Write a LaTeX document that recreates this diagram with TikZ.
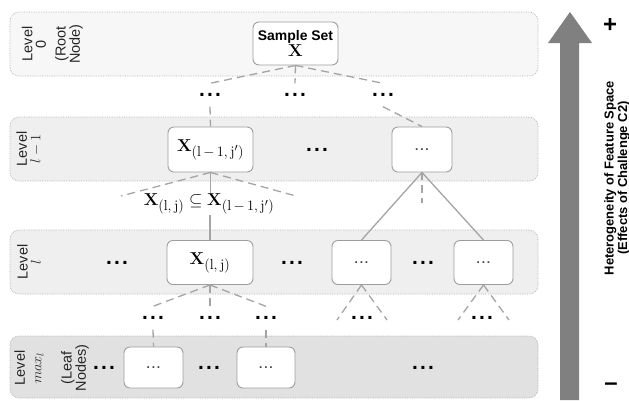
\documentclass[tikz,border=0pt]{standalone}
\usepackage[no-math]{fontspec}
\setmainfont{Liberation Sans}
\usepackage{amssymb}
% larger subscripts for the set labels
\DeclareMathSizes{18.5}{18.5}{14.5}{11}

\definecolor{bandtop}{HTML}{F7F7F7}
\definecolor{bandmid}{HTML}{EFEFEF}
\definecolor{bandleaf}{HTML}{E1E1E1}
\definecolor{bandline}{HTML}{B0B0B0}
\definecolor{boxline}{HTML}{9E9E9E}
\definecolor{linkgray}{HTML}{A4A4A4}
\definecolor{arrowgray}{HTML}{808080}

% three heavy dots between nodes, and the light ones inside the boxes
\newcommand\bigdots{{\fontsize{21}{21}\selectfont\bfseries .\hspace{2.2bp}.\hspace{2.2bp}.}}
\newcommand\boxdots{{\fontsize{12}{12}\selectfont\bfseries\color{black!75}.\hspace{1.8bp}.\hspace{1.8bp}.}}

\begin{document}
\begin{tikzpicture}[x=1bp,y=-1bp,
  band/.style={draw=bandline, densely dotted, line width=0.7bp, rounded corners=9bp},
  nodebox/.style={draw=boxline, fill=white, line width=0.9bp, rounded corners=6bp,
    inner sep=0pt, align=center},
  dotsnode/.style={inner sep=0pt, minimum width=19bp, minimum height=23bp},
  lvl/.style={rotate=90, align=center, inner sep=0pt, text=black!85,
    font=\fontsize{14.5}{13.5}\selectfont},
  link/.style={draw=linkgray, line width=1.3bp},
  dlink/.style={link, dash pattern=on 8bp off 5bp},
  xfont/.style={font=\fontsize{18.5}{20}\selectfont}
]
\useasboundingbox (0,0) rectangle (629,400);

% level bands
\draw[band, fill=bandtop]  (10,12)  rectangle (538,76);
\draw[band, fill=bandmid]  (10,117) rectangle (538,181);
\draw[band, fill=bandmid]  (10,230) rectangle (538,294);
\draw[band, fill=bandleaf] (10,336) rectangle (538,398);

% level captions
\node[lvl] (cap0a) at (34,44)  {Level\\0};
\node[lvl] (cap0b) at (69,44)  {(Root\\Node)};
\node[lvl] (cap1)  at (29,149) {Level\\$l-1$};
\node[lvl] (cap2)  at (29,262) {Level\\$l$};
\node[lvl] (cap3a) at (29,368) {Level\\[3bp]$max_l$};
\node[lvl] (cap3b) at (75,368) {(Leaf\\Nodes)};

% tree nodes
\node[nodebox, minimum width=85bp, minimum height=43bp] (root) at (295.5,43.5)
  {\fontsize{14}{15}\selectfont\textbf{Sample Set}\\[1bp]{\fontsize{18}{18}\selectfont$\mathbf{X}$}};
\node[nodebox, xfont, minimum width=85bp, minimum height=45bp] (a) at (210.5,149.5)
  {$\mathbf{X}_{(\mathrm{l}\,-\,1,\,\mathrm{j}')}$};
\node[nodebox, minimum width=60bp, minimum height=45bp] (b) at (422,149.5) {\boxdots};
\node[nodebox, xfont, minimum width=86bp, minimum height=44bp] (c) at (210,262.5)
  {$\mathbf{X}_{(\mathrm{l},\,\mathrm{j})}$};
\node[nodebox, minimum width=59bp, minimum height=44bp] (d) at (361.5,262.5) {\boxdots};
\node[nodebox, minimum width=59bp, minimum height=44bp] (e) at (483.5,262.5) {\boxdots};
\node[nodebox, minimum width=59bp, minimum height=41bp] (f) at (153.5,367.5) {\boxdots};
\node[nodebox, minimum width=58bp, minimum height=41bp] (g) at (266,367.5) {\boxdots};

% subset relation between the two X nodes
\node[xfont, inner sep=1bp] (sub) at (209,204)
  {$\mathbf{X}_{(\mathrm{l},\,\mathrm{j})}\subseteq\mathbf{X}_{(\mathrm{l}\,-\,1,\,\mathrm{j}')}$};

% ellipses standing for omitted nodes
\node[dotsnode] (p1) at (210,95)  {\bigdots};
\node[dotsnode] (p2) at (295,95)  {\bigdots};
\node[dotsnode] (p3) at (383,95)  {\bigdots};
\node[dotsnode] (q)  at (317,150) {\bigdots};
\node[dotsnode] (r1) at (117,263) {\bigdots};
\node[dotsnode] (r2) at (292,263) {\bigdots};
\node[dotsnode] (r3) at (423,263) {\bigdots};
\node[dotsnode] (s1) at (153,318) {\bigdots};
\node[dotsnode] (s2) at (210,318) {\bigdots};
\node[dotsnode] (s3) at (266,318) {\bigdots};
\node[dotsnode] (s4) at (362,318) {\bigdots};
\node[dotsnode] (s5) at (482,318) {\bigdots};
\node[dotsnode] (t1) at (104,368) {\bigdots};
\node[dotsnode] (t2) at (209,368) {\bigdots};
\node[dotsnode] (t3) at (423,368) {\bigdots};

% free ends of the open branches
\coordinate (al) at (121,196);
\coordinate (ar) at (296,196);
\coordinate (bd) at (422,203);
\coordinate (dl) at (337,320);
\coordinate (dr) at (387,320);
\coordinate (el) at (458,320);
\coordinate (er) at (509,320);

% root branches
\draw[dlink] (root.south) -- (p1.north);
\draw[dlink] (root.south) -- (p2.north);
\draw[dlink] (root.south) -- (p3.north);
\draw[dlink] (p1.south) -- (a.north);
\draw[dlink] (p3.south) -- (b.north);

% branches below level l-1
\draw[dlink] (a.south) -- (al);
\draw[dlink] (a.south) -- (ar);
\draw[link] (a.south) -- (a.south |- sub.north);
\draw[link] (c.north |- sub.south) -- (c.north);
\draw[link] (b.south) -- (d.north);
\draw[link] (b.south) -- (e.north);
\draw[dlink] (b.south) -- (bd);

% branches below level l
\draw[dlink] (c.south) -- (s1.north);
\draw[dlink] (c.south) -- (s2.north);
\draw[dlink] (c.south) -- (s3.north);
\draw[dlink] (s1.south) -- (f.north);
\draw[dlink] (s3.south) -- (g.north);
\draw[dlink] (d.south) -- (dl);
\draw[dlink] (d.south) -- (dr);
\draw[dlink] (e.south) -- (el);
\draw[dlink] (e.south) -- (er);

% heterogeneity axis
\fill[arrowgray] (560,400) -- (560,43) -- (548,43) -- (570,12) -- (592,43)
  -- (579,43) -- (579,400) -- cycle;
\node[font=\fontsize{24}{24}\selectfont\bfseries, inner sep=0pt] (plus) at (610,25) {+};
\node[font=\fontsize{24}{24}\selectfont\bfseries, inner sep=0pt] (minus) at (611,387) {–};
\node[rotate=90, align=center, inner sep=0pt,
  font=\fontsize{13}{13.5}\selectfont\bfseries] (axis) at (617,178)
  {Heterogeneity of Feature Space\\(Effects of Challenge C2)};
\end{tikzpicture}
\end{document}
